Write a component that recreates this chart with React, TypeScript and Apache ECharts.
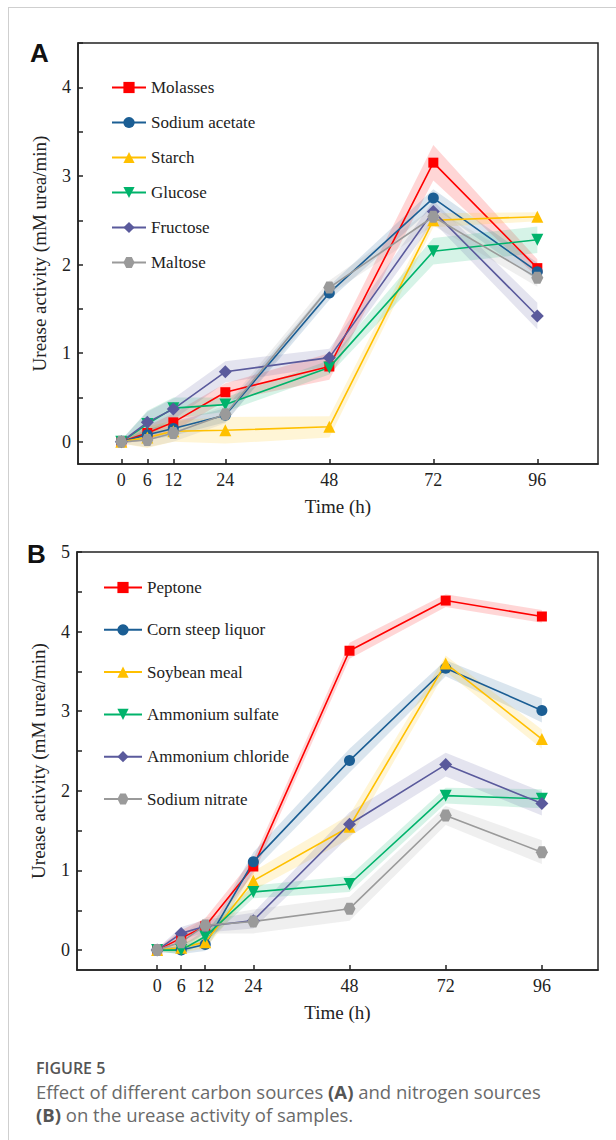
import React, { useEffect, useRef } from "react";
import * as echarts from "echarts";

const hours = [0, 6, 12, 24, 48, 72, 96];
const yTicksA = [0, 0.5, 1, 1.5, 2, 2.5, 3, 3.5, 4, 4.5];
const yLabelsA = [0, 1, 2, 3, 4];
const yTicksB = [0, 0.5, 1, 1.5, 2, 2.5, 3, 3.5, 4, 4.5, 5];
const yLabelsB = [0, 1, 2, 3, 4, 5];

// Panel A: carbon sources
const namesA = ["Molasses", "Sodium acetate", "Starch", "Glucose", "Fructose", "Maltose"];
const molasses = [0, 0.1, 0.22, 0.56, 0.85, 3.15, 1.96];
const sodiumAcetate = [0, 0.08, 0.15, 0.3, 1.68, 2.75, 1.92];
const starch = [0, 0.05, 0.12, 0.13, 0.17, 2.5, 2.54];
const glucose = [0, 0.2, 0.38, 0.42, 0.84, 2.15, 2.28];
const fructose = [0, 0.22, 0.37, 0.79, 0.95, 2.6, 1.42];
const maltose = [0, 0.02, 0.1, 0.31, 1.74, 2.54, 1.85];
const molassesErr = [0.02, 0.08, 0.1, 0.1, 0.15, 0.2, 0.1];
const sodiumAcetateErr = [0.02, 0.06, 0.08, 0.08, 0.08, 0.1, 0.1];
const starchErr = [0.02, 0.12, 0.12, 0.15, 0.12, 0.08, 0.05];
const glucoseErr = [0.02, 0.15, 0.12, 0.08, 0.08, 0.15, 0.15];
const fructoseErr = [0.02, 0.12, 0.12, 0.12, 0.1, 0.12, 0.15];
const maltoseErr = [0.02, 0.08, 0.1, 0.1, 0.08, 0.1, 0.1];

// Panel B: nitrogen sources
const namesB = ["Peptone", "Corn steep liquor", "Soybean meal", "Ammonium sulfate", "Ammonium chloride", "Sodium nitrate"];
const peptone = [0, 0.15, 0.3, 1.05, 3.76, 4.39, 4.19];
const cornSteep = [0, 0.0, 0.07, 1.11, 2.38, 3.54, 3.01];
const soybean = [0, 0.03, 0.1, 0.87, 1.55, 3.6, 2.65];
const ammSulfate = [0, 0.0, 0.17, 0.73, 0.83, 1.94, 1.9];
const ammChloride = [0, 0.21, 0.3, 0.37, 1.58, 2.33, 1.84];
const sodiumNitrate = [0, 0.1, 0.31, 0.36, 0.52, 1.69, 1.23];
const peptoneErr = [0.02, 0.1, 0.1, 0.1, 0.1, 0.08, 0.08];
const cornSteepErr = [0.02, 0.05, 0.08, 0.12, 0.15, 0.1, 0.15];
const soybeanErr = [0.02, 0.06, 0.08, 0.12, 0.15, 0.1, 0.12];
const ammSulfateErr = [0.02, 0.05, 0.08, 0.08, 0.1, 0.1, 0.12];
const ammChlorideErr = [0.02, 0.08, 0.08, 0.1, 0.15, 0.15, 0.15];
const sodiumNitrateErr = [0.02, 0.08, 0.1, 0.15, 0.15, 0.12, 0.15];

const colors = ["#ff0000", "#1b5e94", "#ffc000", "#00b36b", "#5a5a9c", "#9a9a9a"];
const HEX = "path://M5,0L15,0L20,8.66L15,17.32L5,17.32L0,8.66Z";
const symbols = [
  { s: "rect", size: 10, rot: 0 },
  { s: "circle", size: 11, rot: 0 },
  { s: "triangle", size: 12, rot: 0 },
  { s: "triangle", size: 12, rot: 180 },
  { s: "diamond", size: 13, rot: 0 },
  { s: HEX, size: 12, rot: 0 },
];

const SERIF = "'Liberation Serif', 'Times New Roman', serif";

function makeSeries(gi: number, idx: number, name: string, vals: number[], errs: number[]) {
  const color = colors[idx];
  const sym = symbols[idx];
  return [
    {
      type: "custom",
      name: name + " band",
      xAxisIndex: gi,
      yAxisIndex: gi,
      data: [[hours[0], vals[0]]],
      silent: true,
      clip: true,
      z: 1,
      renderItem: (params: any, api: any) => {
        const upper = hours.map((h, i) => api.coord([h, vals[i] + errs[i]]));
        const lower = hours.map((h, i) => api.coord([h, vals[i] - errs[i]])).reverse();
        return {
          type: "polygon",
          shape: { points: [...upper, ...lower] },
          style: { fill: color, opacity: 0.16 },
        };
      },
    },
    {
      type: "line",
      name,
      xAxisIndex: gi,
      yAxisIndex: gi,
      data: hours.map((h, i) => [h, vals[i]]),
      color,
      symbol: sym.s,
      symbolSize: sym.size,
      symbolRotate: sym.rot,
      lineStyle: { color, width: 1.6 },
      itemStyle: { color },
      z: 3,
    },
  ];
}

const axisLineStyle = { color: "#222", width: 1.5 };

function xAxisFor(gi: number, min: number) {
  return {
    gridIndex: gi,
    type: "value",
    min,
    max: 110,
    axisLine: { show: true, onZero: false, lineStyle: axisLineStyle },
    axisTick: { show: true, inside: true, length: 5, customValues: hours, lineStyle: axisLineStyle },
    axisLabel: { customValues: hours, fontFamily: SERIF, fontSize: 18, color: "#222", margin: 7 },
    splitLine: { show: false },
    name: "Time (h)",
    nameLocation: "middle",
    nameGap: 33,
    nameTextStyle: { fontFamily: SERIF, fontSize: 19, color: "#222" },
  };
}

function yAxisFor(gi: number, max: number, ticks: number[], labels: number[]) {
  return {
    gridIndex: gi,
    type: "value",
    min: -0.25,
    max,
    axisLine: { show: true, onZero: false, lineStyle: axisLineStyle },
    axisTick: { show: true, inside: true, length: 5, customValues: ticks, lineStyle: axisLineStyle },
    axisLabel: { customValues: labels, fontFamily: SERIF, fontSize: 18, color: "#222", margin: 7 },
    splitLine: { show: false },
    name: "Urease activity (mM urea/min)",
    nameLocation: "middle",
    nameGap: 29,
    nameTextStyle: { fontFamily: SERIF, fontSize: 19, color: "#222" },
  };
}

export default function App() {
  const ref = useRef<HTMLDivElement>(null);
  useEffect(() => {
    if (!ref.current) return;
    const chart = echarts.init(ref.current, undefined, { renderer: "svg" });
    const seriesA = [
      ...makeSeries(0, 0, namesA[0], molasses, molassesErr),
      ...makeSeries(0, 1, namesA[1], sodiumAcetate, sodiumAcetateErr),
      ...makeSeries(0, 2, namesA[2], starch, starchErr),
      ...makeSeries(0, 3, namesA[3], glucose, glucoseErr),
      ...makeSeries(0, 4, namesA[4], fructose, fructoseErr),
      ...makeSeries(0, 5, namesA[5], maltose, maltoseErr),
    ];
    const seriesB = [
      ...makeSeries(1, 0, namesB[0], peptone, peptoneErr),
      ...makeSeries(1, 1, namesB[1], cornSteep, cornSteepErr),
      ...makeSeries(1, 2, namesB[2], soybean, soybeanErr),
      ...makeSeries(1, 3, namesB[3], ammSulfate, ammSulfateErr),
      ...makeSeries(1, 4, namesB[4], ammChloride, ammChlorideErr),
      ...makeSeries(1, 5, namesB[5], sodiumNitrate, sodiumNitrateErr),
    ];
    chart.setOption({
      animation: false,
      grid: [
        { left: 78, top: 43, width: 520, height: 421, show: true, borderColor: "#222", borderWidth: 1.5, backgroundColor: "transparent" },
        { left: 77, top: 552, width: 521, height: 418, show: true, borderColor: "#222", borderWidth: 1.5, backgroundColor: "transparent" },
      ],
      xAxis: [xAxisFor(0, -10), xAxisFor(1, -20)],
      yAxis: [yAxisFor(0, 4.5, yTicksA, yLabelsA), yAxisFor(1, 5, yTicksB, yLabelsB)],
      legend: [
        {
          data: namesA,
          orient: "vertical",
          left: 106,
          top: 74,
          itemWidth: 34,
          itemHeight: 14,
          itemGap: 18,
          textStyle: { fontFamily: SERIF, fontSize: 17, color: "#222" },
          selectedMode: false,
        },
        {
          data: namesB,
          orient: "vertical",
          left: 98,
          top: 574,
          itemWidth: 38,
          itemHeight: 14,
          itemGap: 25.3,
          textStyle: { fontFamily: SERIF, fontSize: 17, color: "#222" },
          selectedMode: false,
        },
      ],
      graphic: [
        { type: "text", left: 30, top: 40, style: { text: "A", fontFamily: "'Liberation Sans', Arial, sans-serif", fontWeight: "bold", fontSize: 26, fill: "#111" } },
        { type: "text", left: 27, top: 541, style: { text: "B", fontFamily: "'Liberation Sans', Arial, sans-serif", fontWeight: "bold", fontSize: 26, fill: "#111" } },
      ],
      series: [...seriesA, ...seriesB],
    });
    return () => chart.dispose();
  }, []);

  return (
    <div style={{ position: "absolute", left: 0, top: 0, width: 616, height: 1140, overflow: "hidden", background: "#fff" }}>
      <div style={{ position: "absolute", left: 8, top: 7, width: 608, height: 1133, borderTop: "1px solid #cfcfcf", borderLeft: "1px solid #cfcfcf", boxSizing: "border-box" }} />
      <div ref={ref} style={{ position: "absolute", left: 0, top: 0, width: 616, height: 1040 }} />
      <div style={{ position: "absolute", left: 36, top: 1057, width: 575, fontFamily: "'Open Sans', 'Noto Sans', sans-serif", fontSize: 18.5, lineHeight: "23px", color: "#6a6a6a" }}>
        <div style={{ fontWeight: 600, color: "#555", fontSize: 16 }}>FIGURE 5</div>
        <div>
          Effect of different carbon sources <b style={{ color: "#555" }}>(A)</b> and nitrogen sources
          <br />
          <b style={{ color: "#555" }}>(B)</b> on the urease activity of samples.
        </div>
      </div>
    </div>
  );
}
